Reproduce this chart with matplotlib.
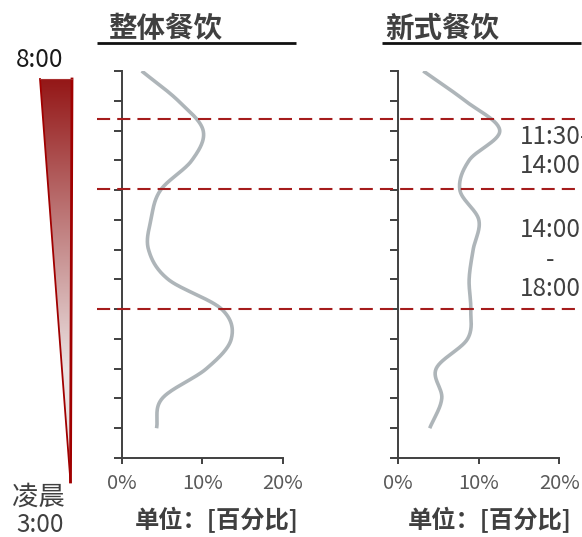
import numpy as np
import matplotlib
matplotlib.use("Agg")
import matplotlib.pyplot as plt
from matplotlib.patches import Polygon

plt.rcParams['font.family'] = ['Noto Sans CJK SC', 'DejaVu Sans']

# Hourly share of orders (%) from 10:00 to 22:00
hours = [10, 11, 12, 13, 14, 15, 16, 17, 18, 19, 20, 21, 22]
overall = [2.45, 7.0, 10.1, 8.7, 4.8, 3.6, 3.3, 5.75, 12.4, 13.6, 10.5, 5.0, 4.3]
new_style = [3.1, 8.3, 12.6, 8.8, 7.65, 10.0, 9.3, 8.8, 9.0, 8.6, 4.7, 5.4, 3.9]

panel_titles = ['整体餐饮', '新式餐饮']
xlabel_text = '单位：[百分比]'
xtick_values = [0, 10, 20]
xtick_labels = ['0%', '10%', '20%']
period_bounds = [11.6, 13.95, 18.0]

W, H = 582, 537
fig = plt.figure(figsize=(W / 100, H / 100), dpi=100)


def fx(px):
    return px / W


def fy(py):
    return 1 - py / H


def smooth(x, y, n=30):
    """Catmull-Rom curve through the hourly points."""
    x = np.asarray(x, float)
    y = np.asarray(y, float)
    xp = np.concatenate([[2 * x[0] - x[1]], x, [2 * x[-1] - x[-2]]])
    yp = np.concatenate([[2 * y[0] - y[1]], y, [2 * y[-1] - y[-2]]])
    xs, ys = [], []
    for i in range(1, len(xp) - 2):
        t = np.linspace(0, 1, n, endpoint=False)
        m0 = (yp[i + 1] - yp[i - 1]) / 2
        m1 = (yp[i + 2] - yp[i]) / 2
        h00 = 2 * t**3 - 3 * t**2 + 1
        h10 = t**3 - 2 * t**2 + t
        h01 = -2 * t**3 + 3 * t**2
        h11 = t**3 - t**2
        ys.append(h00 * yp[i] + h10 * m0 + h01 * yp[i + 1] + h11 * m1)
        xs.append(xp[i] + t * (xp[i + 1] - xp[i]))
    xs.append([x[-1]])
    ys.append([y[-1]])
    return np.concatenate(xs), np.concatenate(ys)


axis_col = '#404040'
curve_col = '#AEB5B9'
panels = [(122, 282.7, overall), (398.3, 559.3, new_style)]
for (x0, x1, series) in panels:
    ax = fig.add_axes([fx(x0), fy(458), fx(x1) - fx(x0), fy(71) - fy(458)])
    t, v = smooth(hours, series)
    ax.plot(v, t, color=curve_col, lw=2.6, solid_capstyle='butt')
    ax.set_xlim(0, 20)
    ax.set_ylim(23, 10)
    ax.set_yticks(range(10, 24))
    ax.set_yticklabels([])
    ax.set_xticks(xtick_values)
    ax.set_xticklabels(xtick_labels)
    for s in ['top', 'right']:
        ax.spines[s].set_visible(False)
    for s in ['left', 'bottom']:
        ax.spines[s].set_color(axis_col)
        ax.spines[s].set_linewidth(1.4)
    ax.tick_params(axis='y', direction='out', length=6, width=1.4, color=axis_col)
    ax.tick_params(axis='x', direction='out', length=4, width=1.4, color=axis_col,
                   labelsize=14.5, labelcolor='#595959', pad=7)
    for lab in ax.get_xticklabels():
        lab.set_fontweight('light')
    ax.patch.set_alpha(0)

# overlay in pixel coordinates for decorations
ov = fig.add_axes([0, 0, 1, 1])
ov.set_xlim(0, W)
ov.set_ylim(H, 0)
ov.axis('off')
ov.patch.set_alpha(0)

# time-of-day wedge with vertical gradient (fades out before the tip)
tri = [(40, 79), (72, 79), (70.5, 482)]
ypix = np.linspace(79, 482, 400)
frac = np.clip((ypix - 79) / (370 - 79), 0, 1)[:, None]
top = np.array([0.58, 0.09, 0.09])
bot = np.array([0.92, 0.89, 0.89])
img = top[None, None, :] * (1 - frac[..., None]) + bot[None, None, :] * frac[..., None]
im = ov.imshow(img, extent=(38, 74, 482, 79), aspect='auto', zorder=1,
               interpolation='bilinear')
poly = Polygon(tri, closed=True, facecolor='none', edgecolor='none', zorder=2)
ov.add_patch(poly)
im.set_clip_path(poly)
ov.plot([40, 70.5], [79, 482], color='#A00000', lw=1.3, zorder=3)
ov.plot([72, 70.5], [79, 482], color='#A00000', lw=2.0, zorder=3)
ov.plot([40, 72], [79, 79], color='#A83030', lw=0.8, zorder=3)
ov.set_xlim(0, W)
ov.set_ylim(H, 0)

ov.text(40, 60, '8:00', ha='center', va='center', fontsize=17.5, color='#1a1a1a',
        fontweight='light')
ov.text(38, 497, '凌晨', ha='center', va='center', fontsize=19, color='#404040',
        fontweight='light')
ov.text(40, 525, '3:00', ha='center', va='center', fontsize=17.5, color='#404040',
        fontweight='light')

# panel titles, underlines and axis captions
for (tx, ux0, ux1, lx), title in zip([(108, 97, 296, 135), (385, 382, 581, 408)], panel_titles):
    ov.text(tx, 29, title, ha='left', va='center', fontsize=20.5, fontweight='bold',
            color='#404040')
    ov.plot([ux0, ux1], [42.7, 42.7], color='#111111', lw=2, solid_capstyle='butt')
    ov.text(lx, 520, xlabel_text, ha='left', va='center', fontsize=17.5,
            fontweight='bold', color='#404040')

# meal-period boundaries (hours mapped to the shared vertical scale)
px_per_hour = (458 - 71) / 13
for b in period_bounds:
    yb = 71 + (b - 10) * px_per_hour
    ov.plot([97, W], [yb, yb], color='#A51C1C', lw=1.5, dashes=(6.3, 3.4), zorder=5)

lab_kw = dict(fontsize=17.5, color='#404040', fontweight='light', va='center')
ov.text(520, 137, '11:30-', ha='left', **lab_kw)
ov.text(520, 166, '14:00', ha='left', **lab_kw)
ov.text(520, 230, '14:00', ha='left', **lab_kw)
ov.text(550, 260, '-', ha='center', **lab_kw)
ov.text(520, 289, '18:00', ha='left', **lab_kw)

fig.savefig('out.png', dpi=100)
